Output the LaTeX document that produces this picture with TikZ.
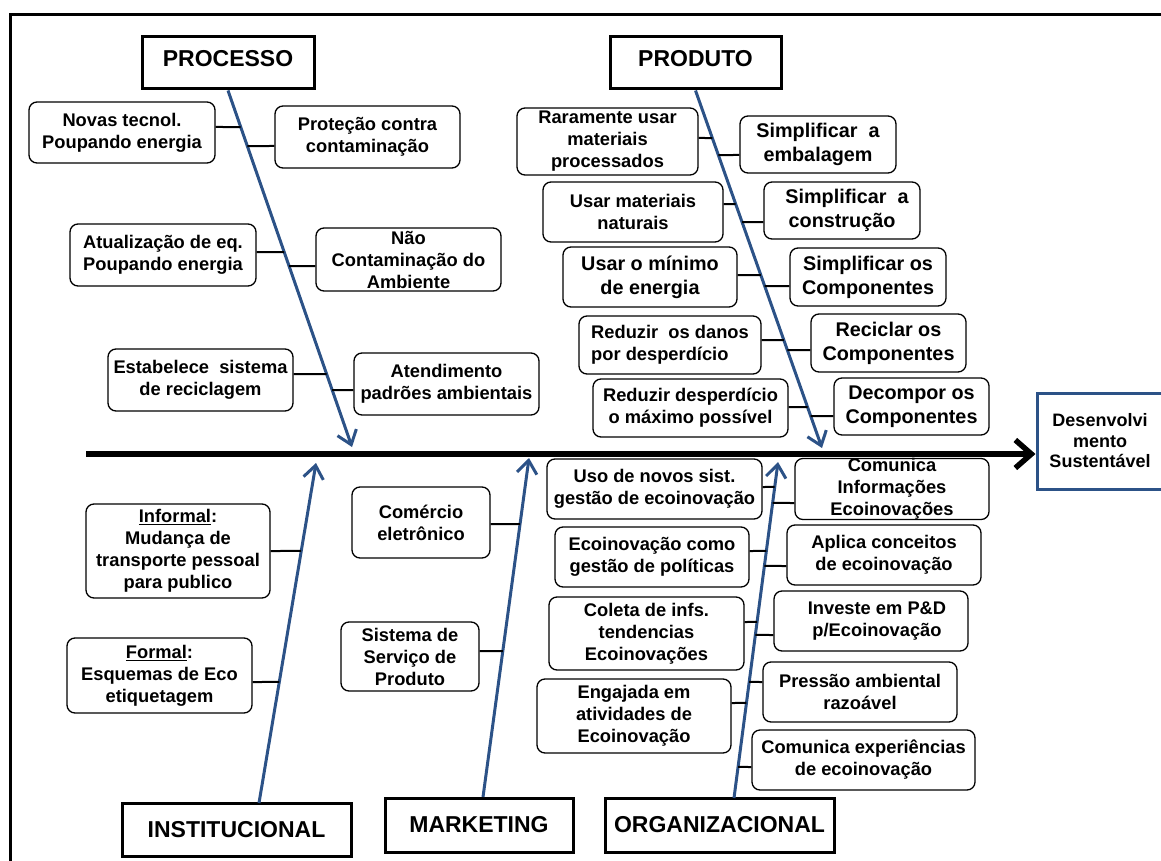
\documentclass[tikz,border=0pt]{standalone}
\usepackage{fontspec}
\setmainfont{Liberation Sans}
\usetikzlibrary{arrows.meta}
\definecolor{bone}{RGB}{44,82,135}

% short horizontal leg from a card to a bone (left side / right side)
\newcommand\legL[4]{\draw[leg] (#1.east |- 0,#2) -- (intersection of #3--#4 and 0,#2--100,#2);}
\newcommand\legR[4]{\draw[leg] (intersection of #3--#4 and 0,#2--100,#2) -- (#1.west |- 0,#2);}

\begin{document}
\begin{tikzpicture}[x=1pt,y=-1pt,
  card/.style={draw, rounded corners=8pt, line width=1.3pt, align=center, inner sep=0pt,
    font=\fontsize{18.3}{22}\selectfont\bfseries},
  bigtext/.style={font=\fontsize{19.8}{24}\selectfont\bfseries},
  sz/.style 2 args={minimum width=#1pt, minimum height=#2pt},
  head/.style={draw, line width=3pt, inner sep=0pt, font=\fontsize{23}{27}\selectfont\bfseries},
  bonearrow/.style={draw=bone, line width=3pt, -{Straight Barb[length=13pt,width=20pt]}},
  spine/.style={line width=5.5pt, -{Straight Barb[length=16pt,width=28pt]}},
  leg/.style={line width=2pt}]

\useasboundingbox (0,0) rectangle (1161,861);

% outer frame (top and left edges)
\draw[line width=3pt] (10,870) -- (10,15) -- (1170,15);

% category headers
\node[head, sz={172}{52}, text depth=9pt] (hproc) at (228,63) {PROCESSO};
\node[head, sz={171}{52}, text depth=9pt] (hprod) at (695.5,63) {PRODUTO};
\node[head, sz={229}{53}] (hinst) at (236.5,829.5) {INSTITUCIONAL};
\node[head, sz={188}{54}] (hmark) at (479,825) {MARKETING};
\node[head, sz={229}{54}] (horg) at (719.5,825) {ORGANIZACIONAL};

% effect
\node[draw=bone, line width=3pt, sz={126}{96}, inner sep=0pt, align=center,
  font=\fontsize{18}{20.5}\selectfont\bfseries] (goal) at (1100,441)
  {Desenvolvi\\mento\\Sustentável};

% bone end points
\coordinate (P0) at (hproc.south);  \coordinate (P1) at (352,447);
\coordinate (D0) at (hprod.south);  \coordinate (D1) at (822,448);
\coordinate (I0) at (259,803);      \coordinate (I1) at (316,463);
\coordinate (M0) at (483,797);      \coordinate (M1) at (529,458);
\coordinate (O0) at (734,798);      \coordinate (O1) at (778,462);
\coordinate (S0) at (86,454);

% spine
\draw[spine] (S0) -- (S0 -| goal.west);

% bones
\draw[bonearrow] (P0) -- (P1);
\draw[bonearrow] (D0) -- (D1);
\draw[bonearrow] (I0) -- (I1);
\draw[bonearrow] (M0) -- (M1);
\draw[bonearrow] (O0) -- (O1);

% PROCESSO causes
\node[card, sz={186}{61}] (p1) at (122,132.5) {Novas tecnol.\\Poupando energia};
\node[card, sz={185}{62}] (p2) at (367.5,137) {Proteção contra\\contaminação};
\node[card, sz={186}{62}] (p3) at (163,255) {Atualização de eq.\\Poupando energia};
\node[card, sz={185}{63}] (p4) at (408.5,259.5) {Não\\Contaminação do\\Ambiente};
\node[card, sz={185}{62}] (p5) at (200.5,380) {Estabelece~ sistema\\de reciclagem};
\node[card, sz={185}{62}] (p6) at (446.5,384) {Atendimento\\padrões ambientais};
\legL{p1}{127}{P0}{P1}
\legR{p2}{146}{P0}{P1}
\legL{p3}{252}{P0}{P1}
\legR{p4}{266}{P0}{P1}
\legL{p5}{374}{P0}{P1}
\legR{p6}{390}{P0}{P1}

% PRODUTO causes
\node[card, sz={181}{67}] (d1) at (607.5,141.5) {Raramente usar\\materiais\\processados};
\node[card, bigtext, sz={156}{57}] (d2) at (818,144.5) {Simplificar~ a\\embalagem};
\node[card, sz={180}{60}] (d3) at (633,212) {Usar materiais\\naturais};
\node[card, bigtext, sz={156}{57}] (d4) at (842,210.5) {\hspace*{10pt}Simplificar~ a\\construção};
\node[card, bigtext, sz={174}{60}] (d5) at (650,277) {Usar o mínimo\\de energia};
\node[card, bigtext, sz={156}{58}] (d6) at (868,277) {Simplificar os\\Componentes};
\node[card, sz={182}{58}, align=left] (d7) at (670,345) {Reduzir~ os danos\\por desperdício};
\node[card, bigtext, sz={155}{58}] (d8) at (888.5,343) {Reciclar os\\Componentes};
\node[card, sz={195}{58}] (d9) at (690.5,408) {Reduzir desperdício\\o máximo possível};
\node[card, bigtext, sz={155}{57}] (d10) at (911.5,406.5) {Decompor os\\Componentes};
\legL{d1}{138}{D0}{D1}
\legR{d2}{155}{D0}{D1}
\legL{d3}{204}{D0}{D1}
\legR{d4}{222}{D0}{D1}
\legL{d5}{275}{D0}{D1}
\legR{d6}{286}{D0}{D1}
\legL{d7}{340}{D0}{D1}
\legR{d8}{350}{D0}{D1}
\legL{d9}{407}{D0}{D1}
\legR{d10}{416}{D0}{D1}

% INSTITUCIONAL causes
\node[card, sz={184}{94}] (i1) at (178,551) {\underline{Informal}:\\Mudança de\\transporte pessoal\\para publico};
\node[card, sz={185}{75}] (i2) at (159.5,675.5) {\underline{Formal}:\\Esquemas de Eco\\etiquetagem};
\legL{i1}{551}{I0}{I1}
\legL{i2}{682}{I0}{I1}

% MARKETING causes
\node[card, sz={138}{71}] (m1) at (421,522.5) {Comércio\\eletrônico};
\node[card, sz={138}{69}] (m2) at (410,656.5) {Sistema de\\Serviço de\\Produto};
\legL{m1}{524}{M0}{M1}
\legL{m2}{651}{M0}{M1}

% ORGANIZACIONAL causes
\node[card, sz={215}{60}] (o1) at (654.5,489) {Uso de novos sist.\\gestão de ecoinovação};
\node[card, sz={194}{60}] (o2) at (892,489) {Comunica\\Informações\\Ecoinovações};
\node[card, sz={194}{60}] (o3) at (652,557) {Ecoinovação como\\gestão de políticas};
\node[card, sz={194}{60}] (o4) at (884,555) {Aplica conceitos\\de ecoinovação};
\node[card, sz={195}{73}] (o5) at (646.5,633.5) {Coleta de infs.\\tendencias\\Ecoinovações};
\node[card, sz={194}{60}] (o6) at (871,621) {\hspace*{12pt}Investe em P\&D\\\hspace*{12pt}p/Ecoinovação};
\node[card, sz={194}{74}] (o7) at (634,716) {Engajada em\\atividades de\\Ecoinovação};
\node[card, sz={194}{60}] (o8) at (860,692) {Pressão ambiental\\razoável};
\node[card, sz={223}{60}] (o9) at (863.5,760) {Comunica experiências\\de ecoinovação};
\legL{o1}{487}{O0}{O1}
\legR{o2}{503}{O0}{O1}
\legL{o3}{551}{O0}{O1}
\legR{o4}{566}{O0}{O1}
\legL{o5}{622}{O0}{O1}
\legR{o6}{635}{O0}{O1}
\legR{o8}{682}{O0}{O1}
\legL{o7}{703}{O0}{O1}
\legR{o9}{767}{O0}{O1}
\end{tikzpicture}
\end{document}
